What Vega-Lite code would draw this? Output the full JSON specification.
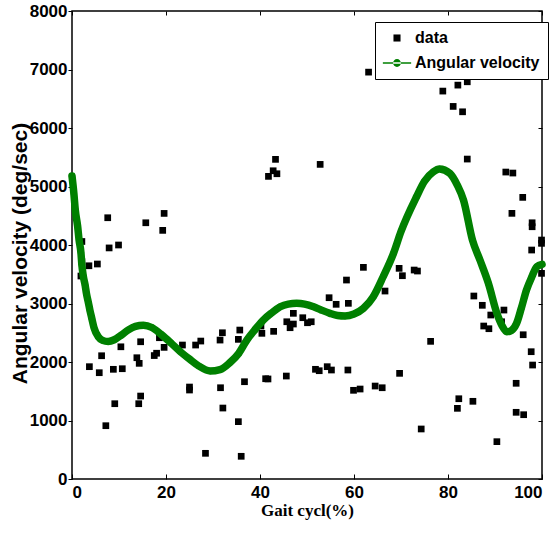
{
  "$schema": "https://vega.github.io/schema/vega-lite/v6.json",
  "width": 470,
  "height": 468,
  "autosize": "none",
  "padding": {"left": 72, "top": 11, "right": 17, "bottom": 54},
  "background": "white",
  "config": {
    "view": {"stroke": "black", "strokeWidth": 1.5},
    "font": "Liberation Sans",
    "axis": {"domainColor": "black", "tickColor": "black", "labelColor": "black", "titleColor": "black", "grid": false}
  },
  "datasets": {
    "pts": [
      {"x": 2.1, "y": 4060, "series": "data"}, {"x": 7.6, "y": 4466, "series": "data"}, {"x": 19.6, "y": 4540, "series": "data"},
      {"x": 15.7, "y": 4380, "series": "data"}, {"x": 19.3, "y": 4250, "series": "data"}, {"x": 9.9, "y": 4000, "series": "data"},
      {"x": 7.9, "y": 3950, "series": "data"}, {"x": 2.1, "y": 3715, "series": "data"}, {"x": 3.6, "y": 3645, "series": "data"},
      {"x": 5.4, "y": 3675, "series": "data"}, {"x": 1.9, "y": 3470, "series": "data"}, {"x": 6.3, "y": 2107, "series": "data"},
      {"x": 3.7, "y": 1920, "series": "data"}, {"x": 5.8, "y": 1817, "series": "data"}, {"x": 8.8, "y": 1875, "series": "data"},
      {"x": 10.7, "y": 1885, "series": "data"}, {"x": 10.4, "y": 2260, "series": "data"}, {"x": 14.6, "y": 2346, "series": "data"},
      {"x": 13.8, "y": 2073, "series": "data"}, {"x": 14.3, "y": 1977, "series": "data"}, {"x": 9.1, "y": 1287, "series": "data"},
      {"x": 14.2, "y": 1287, "series": "data"}, {"x": 14.6, "y": 1418, "series": "data"}, {"x": 7.2, "y": 911, "series": "data"},
      {"x": 17.5, "y": 2110, "series": "data"}, {"x": 18.0, "y": 2150, "series": "data"}, {"x": 18.6, "y": 2415, "series": "data"},
      {"x": 19.6, "y": 2250, "series": "data"}, {"x": 23.5, "y": 2290, "series": "data"}, {"x": 25.0, "y": 1572, "series": "data"},
      {"x": 25.0, "y": 1521, "series": "data"}, {"x": 26.3, "y": 2290, "series": "data"}, {"x": 27.4, "y": 2358, "series": "data"},
      {"x": 31.5, "y": 2375, "series": "data"}, {"x": 32.0, "y": 2500, "series": "data"}, {"x": 35.4, "y": 2387, "series": "data"},
      {"x": 35.7, "y": 2546, "series": "data"}, {"x": 31.6, "y": 1560, "series": "data"}, {"x": 32.1, "y": 1213, "series": "data"},
      {"x": 28.4, "y": 439, "series": "data"}, {"x": 35.4, "y": 980, "series": "data"}, {"x": 63.1, "y": 6955, "series": "data"},
      {"x": 43.3, "y": 5464, "series": "data"}, {"x": 52.8, "y": 5378, "series": "data"}, {"x": 41.8, "y": 5173, "series": "data"},
      {"x": 42.8, "y": 5269, "series": "data"}, {"x": 43.6, "y": 5218, "series": "data"}, {"x": 36.7, "y": 1663, "series": "data"},
      {"x": 36.0, "y": 388, "series": "data"}, {"x": 40.2, "y": 2615, "series": "data"}, {"x": 40.4, "y": 2490, "series": "data"},
      {"x": 42.9, "y": 2524, "series": "data"}, {"x": 41.2, "y": 1714, "series": "data"}, {"x": 41.7, "y": 1710, "series": "data"},
      {"x": 45.6, "y": 1760, "series": "data"}, {"x": 45.7, "y": 2688, "series": "data"}, {"x": 47.1, "y": 2832, "series": "data"},
      {"x": 46.4, "y": 2586, "series": "data"}, {"x": 47.1, "y": 2649, "series": "data"}, {"x": 49.1, "y": 2757, "series": "data"},
      {"x": 50.1, "y": 2671, "series": "data"}, {"x": 50.9, "y": 2688, "series": "data"}, {"x": 51.8, "y": 1875, "series": "data"},
      {"x": 52.6, "y": 1851, "series": "data"}, {"x": 54.3, "y": 1920, "series": "data"}, {"x": 55.2, "y": 1863, "series": "data"},
      {"x": 54.7, "y": 3099, "series": "data"}, {"x": 56.2, "y": 2986, "series": "data"}, {"x": 58.4, "y": 3401, "series": "data"},
      {"x": 58.8, "y": 3003, "series": "data"}, {"x": 58.7, "y": 1863, "series": "data"}, {"x": 59.9, "y": 1516, "series": "data"},
      {"x": 61.3, "y": 1538, "series": "data"}, {"x": 62.0, "y": 3618, "series": "data"}, {"x": 64.5, "y": 1589, "series": "data"},
      {"x": 66.0, "y": 1560, "series": "data"}, {"x": 66.6, "y": 3213, "series": "data"}, {"x": 69.6, "y": 3601, "series": "data"},
      {"x": 70.3, "y": 3475, "series": "data"}, {"x": 69.7, "y": 1806, "series": "data"}, {"x": 72.8, "y": 3572, "series": "data"},
      {"x": 73.5, "y": 3555, "series": "data"}, {"x": 74.3, "y": 855, "series": "data"}, {"x": 76.3, "y": 2353, "series": "data"},
      {"x": 85.5, "y": 3128, "series": "data"}, {"x": 87.3, "y": 2969, "series": "data"}, {"x": 89.1, "y": 2803, "series": "data"},
      {"x": 87.6, "y": 2615, "series": "data"}, {"x": 88.7, "y": 2569, "series": "data"}, {"x": 91.9, "y": 2888, "series": "data"},
      {"x": 91.4, "y": 2688, "series": "data"}, {"x": 96.0, "y": 2466, "series": "data"}, {"x": 97.7, "y": 2176, "series": "data"},
      {"x": 98.0, "y": 1948, "series": "data"}, {"x": 94.5, "y": 1636, "series": "data"}, {"x": 82.3, "y": 1372, "series": "data"},
      {"x": 82.0, "y": 1208, "series": "data"}, {"x": 85.3, "y": 1328, "series": "data"}, {"x": 94.5, "y": 1140, "series": "data"},
      {"x": 96.1, "y": 1099, "series": "data"}, {"x": 90.4, "y": 638, "series": "data"}, {"x": 97.8, "y": 3914, "series": "data"},
      {"x": 99.9, "y": 4028, "series": "data"}, {"x": 99.9, "y": 3515, "series": "data"}, {"x": 78.9, "y": 6631, "series": "data"},
      {"x": 82.1, "y": 6733, "series": "data"}, {"x": 84.1, "y": 6790, "series": "data"}, {"x": 81.1, "y": 6369, "series": "data"},
      {"x": 83.1, "y": 6277, "series": "data"}, {"x": 84.1, "y": 5469, "series": "data"}, {"x": 92.3, "y": 5247, "series": "data"},
      {"x": 93.8, "y": 5230, "series": "data"}, {"x": 95.9, "y": 4814, "series": "data"}, {"x": 93.6, "y": 4541, "series": "data"},
      {"x": 97.9, "y": 4380, "series": "data"}, {"x": 97.9, "y": 4312, "series": "data"}, {"x": 99.9, "y": 4085, "series": "data"}
    ],
    "fit": [
      {"x": 0, "y": 5180, "series": "Angular velocity"}, {"x": 0.4, "y": 4880, "series": "Angular velocity"},
      {"x": 0.7, "y": 4600, "series": "Angular velocity"}, {"x": 1.2, "y": 4320, "series": "Angular velocity"},
      {"x": 1.5, "y": 4090, "series": "Angular velocity"}, {"x": 1.9, "y": 3870, "series": "Angular velocity"},
      {"x": 2.1, "y": 3660, "series": "Angular velocity"}, {"x": 2.4, "y": 3470, "series": "Angular velocity"},
      {"x": 2.8, "y": 3310, "series": "Angular velocity"}, {"x": 3.1, "y": 3160, "series": "Angular velocity"},
      {"x": 3.5, "y": 3010, "series": "Angular velocity"}, {"x": 3.8, "y": 2890, "series": "Angular velocity"},
      {"x": 4.2, "y": 2750, "series": "Angular velocity"}, {"x": 4.7, "y": 2580, "series": "Angular velocity"},
      {"x": 5.6, "y": 2430, "series": "Angular velocity"}, {"x": 6.5, "y": 2370, "series": "Angular velocity"},
      {"x": 7.7, "y": 2350, "series": "Angular velocity"}, {"x": 9, "y": 2380, "series": "Angular velocity"},
      {"x": 10.5, "y": 2460, "series": "Angular velocity"}, {"x": 12, "y": 2550, "series": "Angular velocity"},
      {"x": 13.5, "y": 2610, "series": "Angular velocity"}, {"x": 15.2, "y": 2630, "series": "Angular velocity"},
      {"x": 17, "y": 2590, "series": "Angular velocity"}, {"x": 19, "y": 2470, "series": "Angular velocity"},
      {"x": 21, "y": 2330, "series": "Angular velocity"}, {"x": 23, "y": 2180, "series": "Angular velocity"},
      {"x": 25, "y": 2050, "series": "Angular velocity"}, {"x": 27, "y": 1930, "series": "Angular velocity"},
      {"x": 29.4, "y": 1846, "series": "Angular velocity"}, {"x": 31.5, "y": 1870, "series": "Angular velocity"},
      {"x": 33.6, "y": 1990, "series": "Angular velocity"}, {"x": 35.5, "y": 2150, "series": "Angular velocity"},
      {"x": 37.2, "y": 2375, "series": "Angular velocity"}, {"x": 39, "y": 2560, "series": "Angular velocity"},
      {"x": 40.7, "y": 2717, "series": "Angular velocity"}, {"x": 42.5, "y": 2840, "series": "Angular velocity"},
      {"x": 44.3, "y": 2945, "series": "Angular velocity"}, {"x": 46, "y": 2990, "series": "Angular velocity"},
      {"x": 47.8, "y": 3003, "series": "Angular velocity"}, {"x": 49.5, "y": 2990, "series": "Angular velocity"},
      {"x": 51.4, "y": 2945, "series": "Angular velocity"}, {"x": 53, "y": 2890, "series": "Angular velocity"},
      {"x": 54.9, "y": 2831, "series": "Angular velocity"}, {"x": 56.5, "y": 2795, "series": "Angular velocity"},
      {"x": 58.1, "y": 2786, "series": "Angular velocity"}, {"x": 60, "y": 2820, "series": "Angular velocity"},
      {"x": 62, "y": 2917, "series": "Angular velocity"}, {"x": 64.1, "y": 3116, "series": "Angular velocity"},
      {"x": 66.2, "y": 3457, "series": "Angular velocity"}, {"x": 68.4, "y": 3857, "series": "Angular velocity"},
      {"x": 70, "y": 4230, "series": "Angular velocity"}, {"x": 73.3, "y": 4825, "series": "Angular velocity"},
      {"x": 75, "y": 5090, "series": "Angular velocity"}, {"x": 76.9, "y": 5252, "series": "Angular velocity"},
      {"x": 78.2, "y": 5300, "series": "Angular velocity"}, {"x": 80.4, "y": 5224, "series": "Angular velocity"},
      {"x": 82, "y": 5020, "series": "Angular velocity"}, {"x": 83.3, "y": 4768, "series": "Angular velocity"},
      {"x": 85.2, "y": 4085, "series": "Angular velocity"}, {"x": 86.8, "y": 3743, "series": "Angular velocity"},
      {"x": 88.6, "y": 3344, "series": "Angular velocity"}, {"x": 90.4, "y": 2832, "series": "Angular velocity"},
      {"x": 91.5, "y": 2620, "series": "Angular velocity"}, {"x": 92.5, "y": 2517, "series": "Angular velocity"},
      {"x": 93.5, "y": 2540, "series": "Angular velocity"}, {"x": 94.6, "y": 2661, "series": "Angular velocity"},
      {"x": 95.6, "y": 2920, "series": "Angular velocity"}, {"x": 96.7, "y": 3230, "series": "Angular velocity"},
      {"x": 97.8, "y": 3450, "series": "Angular velocity"}, {"x": 98.9, "y": 3628, "series": "Angular velocity"},
      {"x": 100, "y": 3670, "series": "Angular velocity"}
    ]
  },
  "resolve": {"axis": {"x": "independent", "y": "independent"}},
  "layer": [
    {
      "data": {"name": "pts"},
      "mark": {"type": "point", "filled": true, "size": 45, "opacity": 1},
      "encoding": {
        "x": {"field": "x", "type": "quantitative", "scale": {"domain": [0, 100], "nice": false},
          "axis": {"orient": "bottom", "values": [0, 20, 40, 60, 80, 100], "format": "d", "tickSize": -5, "labelPadding": 10, "domain": false,
            "labelFontSize": 17, "labelFontWeight": "bold", "labelFont": "Liberation Sans",
            "title": "Gait cycl(%)", "titleFont": "Liberation Serif", "titleFontSize": 17, "titleFontWeight": "bold", "titlePadding": 2}},
        "y": {"field": "y", "type": "quantitative", "scale": {"domain": [0, 8000], "nice": false},
          "axis": {"orient": "left", "values": [0, 1000, 2000, 3000, 4000, 5000, 6000, 7000, 8000], "format": "d", "tickSize": 4, "labelPadding": 1, "domain": false,
            "labelFontSize": 17, "labelFontWeight": "bold", "labelFont": "Liberation Sans",
            "title": "Angular velocity (deg/sec)", "titleFontSize": 21, "titleFontWeight": "bold", "titleX": -42, "titleY": 242}},
        "color": {"field": "series", "type": "nominal",
          "scale": {"domain": ["data", "Angular velocity"], "range": ["black", "#008000"]},
          "legend": {"title": null, "orient": "none", "legendX": 303, "legendY": 11, "strokeColor": "black", "fillColor": "white",
            "padding": 8, "labelFontSize": 16, "labelFontWeight": "bold", "labelFont": "Liberation Sans",
            "labelLimit": 0, "rowPadding": 9, "symbolSize": 50, "symbolOffset": 6, "labelOffset": 10, "symbolStrokeWidth": 0}},
        "shape": {"field": "series", "type": "nominal",
          "scale": {"domain": ["data", "Angular velocity"], "range": ["square", "M-4,-0.2H4V0.2H-4Z M-1.1,0A1.1,1.1 0 1,0 1.1,0A1.1,1.1 0 1,0 -1.1,0Z"]}}
      }
    },
    {
      "data": {"name": "fit"},
      "mark": {"type": "line", "strokeWidth": 7.5, "interpolate": "monotone", "strokeCap": "round"},
      "encoding": {
        "x": {"field": "x", "type": "quantitative", "scale": {"domain": [0, 100], "nice": false},
          "axis": {"orient": "top", "values": [0, 20, 40, 60, 80, 100], "tickSize": -4, "labels": false, "domain": false, "title": null}},
        "y": {"field": "y", "type": "quantitative", "scale": {"domain": [0, 8000], "nice": false},
          "axis": {"orient": "right", "values": [0, 1000, 2000, 3000, 4000, 5000, 6000, 7000, 8000], "tickSize": -4, "labels": false, "domain": false, "title": null}},
        "color": {"field": "series", "type": "nominal", "scale": {"domain": ["data", "Angular velocity"], "range": ["black", "#008000"]}}
      }
    },
    {
      "data": {"name": "fit"},
      "mark": {"type": "point", "filled": true, "size": 40, "opacity": 1, "shape": "circle"},
      "encoding": {
        "x": {"field": "x", "type": "quantitative", "axis": null},
        "y": {"field": "y", "type": "quantitative", "axis": null},
        "color": {"field": "series", "type": "nominal", "scale": {"domain": ["data", "Angular velocity"], "range": ["black", "#008000"]}}
      }
    }
  ]
}
